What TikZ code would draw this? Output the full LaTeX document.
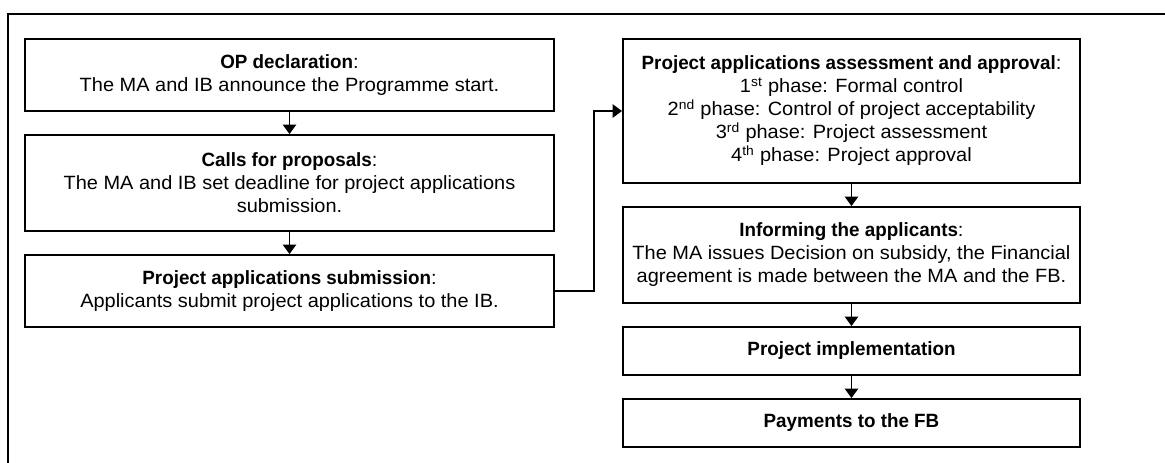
\documentclass[tikz,border=0pt]{standalone}
\usepackage{fontspec}
\setmainfont{Liberation Sans}[FakeStretch=1.04, BoldFeatures={FakeStretch=0.98}]
\usetikzlibrary{arrows.meta}
% fixed line pitch, even with superscripts on a line
\newcommand\boxfont{\fontsize{14.4pt}{17.25pt}\selectfont\lineskiplimit=-1000pt\relax}
\tikzset{
  stagebox/.style={draw=black, line width=1.5pt, fill=white, align=center,
    inner sep=2pt, font=\boxfont},
  leftbox/.style={stagebox, minimum width=396.75pt},
  rightbox/.style={stagebox, minimum width=342.75pt},
  flow/.style={line width=1pt, -{Triangle[length=7pt,width=10pt]}},
  frameline/.style={line width=1.5pt}
}
\begin{document}
\begin{tikzpicture}[x=0.75pt,y=-0.75pt]
  \useasboundingbox (0,0) rectangle (1165,462);
  % outer frame (only top and left sides fall inside the page)
  \draw[frameline] (8,480) -- (8,14) -- (1180,14);

  % left column
  \node[leftbox, minimum height=54pt] (decl) at (289.5,75)
    {\textbf{OP declaration}:\\The MA and IB announce the Programme start.};
  \node[leftbox, minimum height=72pt] (calls) at (289.5,183)
    {\textbf{Calls for proposals}:\\The MA and IB set deadline for project applications\\submission.};
  \node[leftbox, minimum height=54pt] (subm) at (289.5,291)
    {\textbf{Project applications submission}:\\Applicants submit project applications to the IB.};

  % right column
  \node[rightbox, minimum height=108pt] (assess) at (851.5,111)
    {\textbf{Project applications assessment and approval}:\\
     1\textsuperscript{st} phase: Formal control\\
     2\textsuperscript{nd} phase: Control of project acceptability\\
     3\textsuperscript{rd} phase: Project assessment\\
     4\textsuperscript{th} phase: Project approval};
  \node[rightbox, minimum height=72pt] (inform) at (851.5,255)
    {\textbf{Informing the applicants}:\\The MA issues Decision on subsidy, the Financial\\agreement is made between the MA and the FB.};
  \node[rightbox, minimum height=36pt] (impl) at (851.5,351)
    {\textbf{Project implementation}};
  \node[rightbox, minimum height=36pt] (pay) at (851.5,423)
    {\textbf{Payments to the FB}};

  % connectors
  \draw[flow] (decl.south) -- (calls.north);
  \draw[flow] (calls.south) -- (subm.north);
  \coordinate (turn) at (594,0);
  \draw[flow] (subm.east) -- (subm.east -| turn) -- (assess.west -| turn) -- (assess.west);
  \draw[flow] (assess.south) -- (inform.north);
  \draw[flow] (inform.south) -- (impl.north);
  \draw[flow] (impl.south) -- (pay.north);
\end{tikzpicture}
\end{document}
